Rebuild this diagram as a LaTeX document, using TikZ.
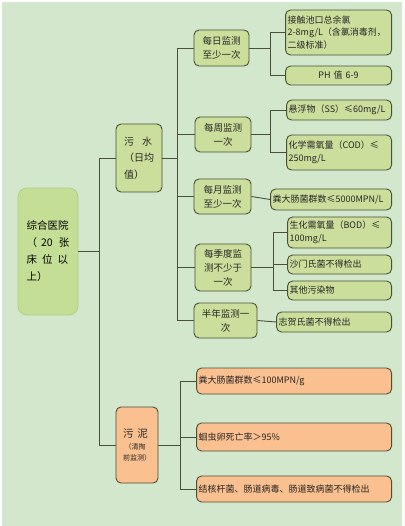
\documentclass[tikz,border=0pt]{standalone}
\usepackage{fontspec}
\setmainfont{Noto Sans CJK SC}
\usetikzlibrary{positioning}
\definecolor{paper}{RGB}{210,231,204}
\definecolor{sage}{RGB}{204,222,156}
\definecolor{moss}{RGB}{197,222,150}
\definecolor{mossline}{RGB}{178,206,135}
\definecolor{peach}{RGB}{250,192,143}
\definecolor{olive}{RGB}{72,80,56}
\tikzset{
  card/.style={draw=olive,fill=#1,rounded corners=5pt,line width=0.9pt,
    inner sep=2pt,font=\fontsize{9}{12.5}\selectfont,text=black!85},
  card/.default=sage,
  stage/.style={card,align=center,font=\fontsize{9.5}{14}\selectfont},
  item/.style={card=#1,align=left,anchor=east},
  item/.default=sage,
  link/.style={draw=olive,line width=0.9pt},
}
\begin{document}
\begin{tikzpicture}[x=1pt,y=-1pt]
  \useasboundingbox (0,0) rectangle (404,526);
  \fill[paper] (2,2) rectangle (402,526);
  % root and first branches
  \node[draw=mossline,fill=moss,rounded corners=9pt,line width=0.8pt,
    minimum width=60pt,minimum height=127pt,align=left,
    font=\fontsize{10.5}{17}\selectfont] (root) at (48,251.5)
    {综合医院\\（\hspace{4pt}20\hspace{6pt}张\\床\hspace{5pt}位\hspace{5pt}以\\上）};
  \node[stage,minimum width=46pt,minimum height=68pt,align=left,
    font=\fontsize{10}{16.5}\selectfont] (water) at (139,158)
    {污\hspace{8pt}水\\（日均\\值）};
  \node[stage,card=peach,minimum width=42pt,minimum height=76pt,align=left] (sludge) at (137,445)
    {\fontsize{10.5}{14}\selectfont 污\hspace{4pt}泥\\[-1pt]{\fontsize{7}{14}\selectfont\ （清掏}\\[-1pt]{\fontsize{7}{14}\selectfont 前监测）}};
  % monitoring frequency
  \node[stage,minimum width=55pt,minimum height=36pt] (daily) at (221.5,48) {每日监测\\至少一次};
  \node[stage,minimum width=56pt,minimum height=35pt] (weekly) at (223,134.5) {每周监测\\一次};
  \node[stage,minimum width=57pt,minimum height=35pt] (monthly) at (222.5,196.5) {每月监测\\至少一次};
  \node[stage,minimum width=56pt,minimum height=47pt] (quarter) at (223,267.5) {每季度监\\测不少于\\一次};
  \node[stage,minimum width=63pt,minimum height=35pt] (halfyear) at (225.5,320.5) {半年监测一\\次};
  % limits
  \node[item,text width=102pt,minimum height=45pt] (chlorine) at (392,32.5)
    {接触池口总余氯\\2-8mg/L（含氯消毒剂，\\二级标准）};
  \node[item,text width=102pt,minimum height=19pt,align=center] (ph) at (392,75.5) {PH 值 6-9};
  \node[item,text width=101pt,minimum height=20pt] (ss) at (392,110) {悬浮物（SS）≤60mg/L};
  \node[item,text width=101pt,minimum height=35pt] (cod) at (392,152.5) {化学需氧量（COD）≤\\250mg/L};
  \node[item,text width=117pt,minimum height=21pt] (coli) at (392,199.5) {粪大肠菌群数≤5000MPN/L};
  \node[item,text width=100pt,minimum height=31pt] (bod) at (392,232.5) {生化需氧量（BOD）≤\\100mg/L};
  \node[item,text width=100pt,minimum height=19pt] (salmon) at (392,264.5) {沙门氏菌不得检出};
  \node[item,text width=100pt,minimum height=19pt] (others) at (392,290.5) {其他污染物};
  \node[item,text width=111pt,minimum height=20pt] (shigella) at (392,322) {志贺氏菌不得检出};
  \node[item=peach,text width=191pt,minimum height=26pt] (scoli) at (392,381) {粪大肠菌群数≤100MPN/g};
  \node[item=peach,text width=191pt,minimum height=28pt] (ascaris) at (392,437) {蛔虫卵死亡率＞95\%};
  \node[item=peach,text width=191pt,minimum height=26pt] (tuber) at (392,489) {结核杆菌、肠道病毒、肠道致病菌不得检出};
  % connectors
  \draw[link] (root.east) -- ++(21,0) |- (water.west);
  \draw[link] (root.east) -- ++(21,0) |- (sludge.west);
  \foreach \n in {daily,weekly,monthly,quarter,halfyear}
    \draw[link] (water.east) -- ++(15,0) |- (\n.west);
  \foreach \n in {chlorine,ph}
    \draw[link] (daily.east) -- ++(21,0) |- (\n.west);
  \foreach \n in {ss,cod}
    \draw[link] (weekly.east) -- ++(19,0) |- (\n.west);
  \draw[link] (monthly.east) -- (coli.west);
  \foreach \n in {bod,salmon,others}
    \draw[link] (quarter.east) -- ++(22,0) |- (\n.west);
  \draw[link] (halfyear.east) -- (shigella.west);
  \foreach \n in {scoli,ascaris,tuber}
    \draw[link] (sludge.east) -- ++(22,0) |- (\n.west);
\end{tikzpicture}
\end{document}
